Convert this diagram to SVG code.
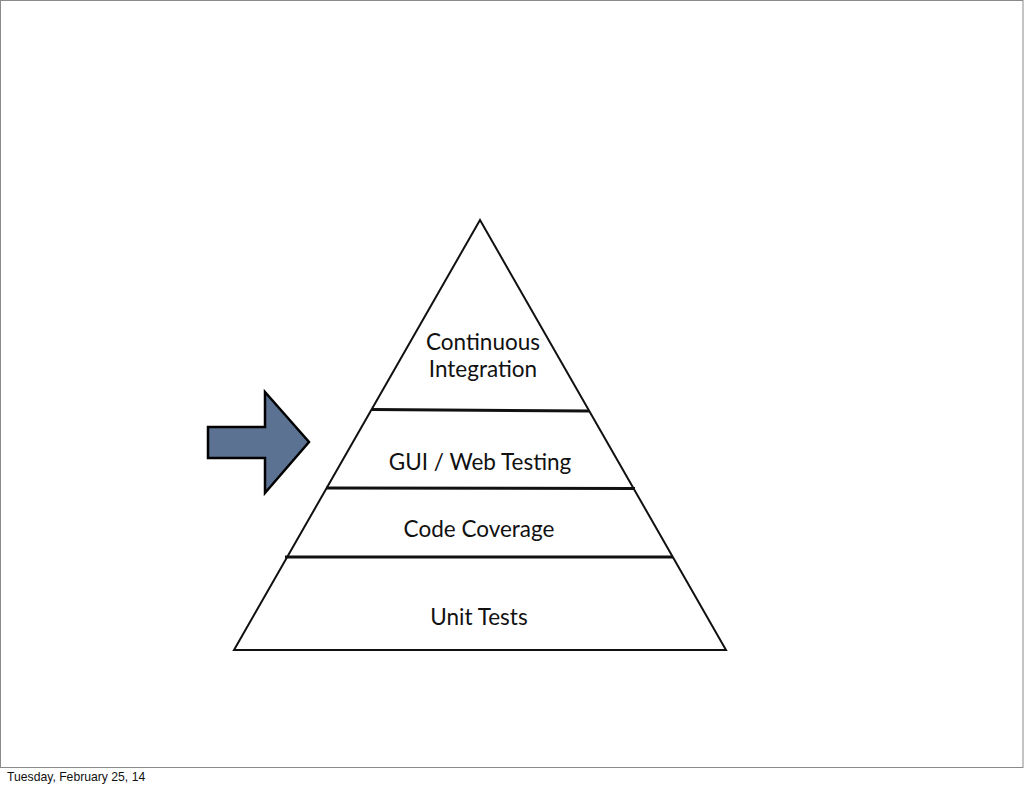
<svg xmlns="http://www.w3.org/2000/svg" width="1024" height="788" viewBox="0 0 1024 788">
<style>
.lbl{font-family:Lato,"Open Sans",sans-serif;font-size:22.5px;fill:#111;text-anchor:middle}
.div{stroke:#111;stroke-width:3;fill:none}
.foot{font-family:"Liberation Sans",Arial,sans-serif;font-size:12.2px;fill:#111}
</style>
<rect x="0" y="0" width="1024" height="788" fill="#fff"/>
<rect x="0.5" y="0.5" width="1022.5" height="767" fill="#fff" stroke="#8a8a8a" stroke-width="1"/>
<g id="pyramid">
<polygon points="480,220 726,650 234,650" fill="#fff" stroke="#111" stroke-width="2"/>
</g>
<g id="connectors">
<line class="div" x1="372" y1="409.5" x2="589" y2="411"/>
<line class="div" x1="326" y1="488" x2="635" y2="488.5"/>
<line class="div" x1="285" y1="557" x2="673" y2="557"/>
</g>
<g id="ci"><text class="lbl" x="483" y="350">Continuous</text><text class="lbl" x="483" y="377">Integration</text></g>
<g id="gui"><text class="lbl" x="480" y="470">GUI / Web Testing</text></g>
<g id="cov"><text class="lbl" x="479" y="537">Code Coverage</text></g>
<g id="unit"><text class="lbl" x="479" y="625">Unit Tests</text></g>
<g id="arrow">
<polygon points="208,427 265,427 265,392 309,442 265,493 265,458 208,458" fill="#5b7292" stroke="#000" stroke-width="2.5" stroke-linejoin="miter"/>
</g>
<text class="foot" x="7" y="781">Tuesday, February 25, 14</text>
</svg>
